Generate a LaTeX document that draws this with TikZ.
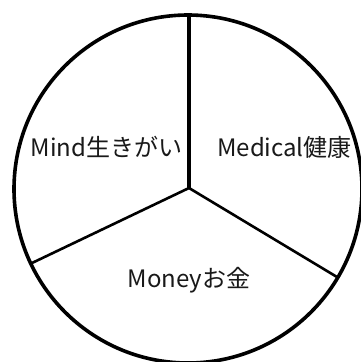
\documentclass[tikz,border=0pt]{standalone}
\usepackage{fontspec}
\newfontfamily\jpfont{Noto Sans CJK JP}
\begin{document}
\begin{tikzpicture}[x=1pt,y=-1pt,
  ring/.style={draw=black,line width=3.6pt},
  divider/.style={draw=black,line width=2.6pt},
  label/.style={font=\jpfont\fontsize{24}{28}\selectfont,anchor=base,inner sep=0pt,text=black!90}]
\useasboundingbox (0,0) rectangle (361,362);
\clip (0,0) rectangle (361,362);
\fill[white] (0,0) rectangle (361,362);
\node[ring,circle,minimum size=348pt,inner sep=0pt] (c) at (188,189) {};
\coordinate (o) at (189,188);
\coordinate (top) at (189,14);
\coordinate (left) at (32,263);
\coordinate (right) at (337,277);
\draw[divider,line width=3.2pt] (o) -- (top);
\draw[divider,line cap=round] (o) -- (left);
\draw[divider,line cap=round] (o) -- (right);
\node[label] (mind) at (106.5,156) {Mind生きがい};
\node[label] (medical) at (284.5,156) {Medical健康};
\node[label] (money) at (189,287) {Moneyお金};
\end{tikzpicture}
\end{document}
